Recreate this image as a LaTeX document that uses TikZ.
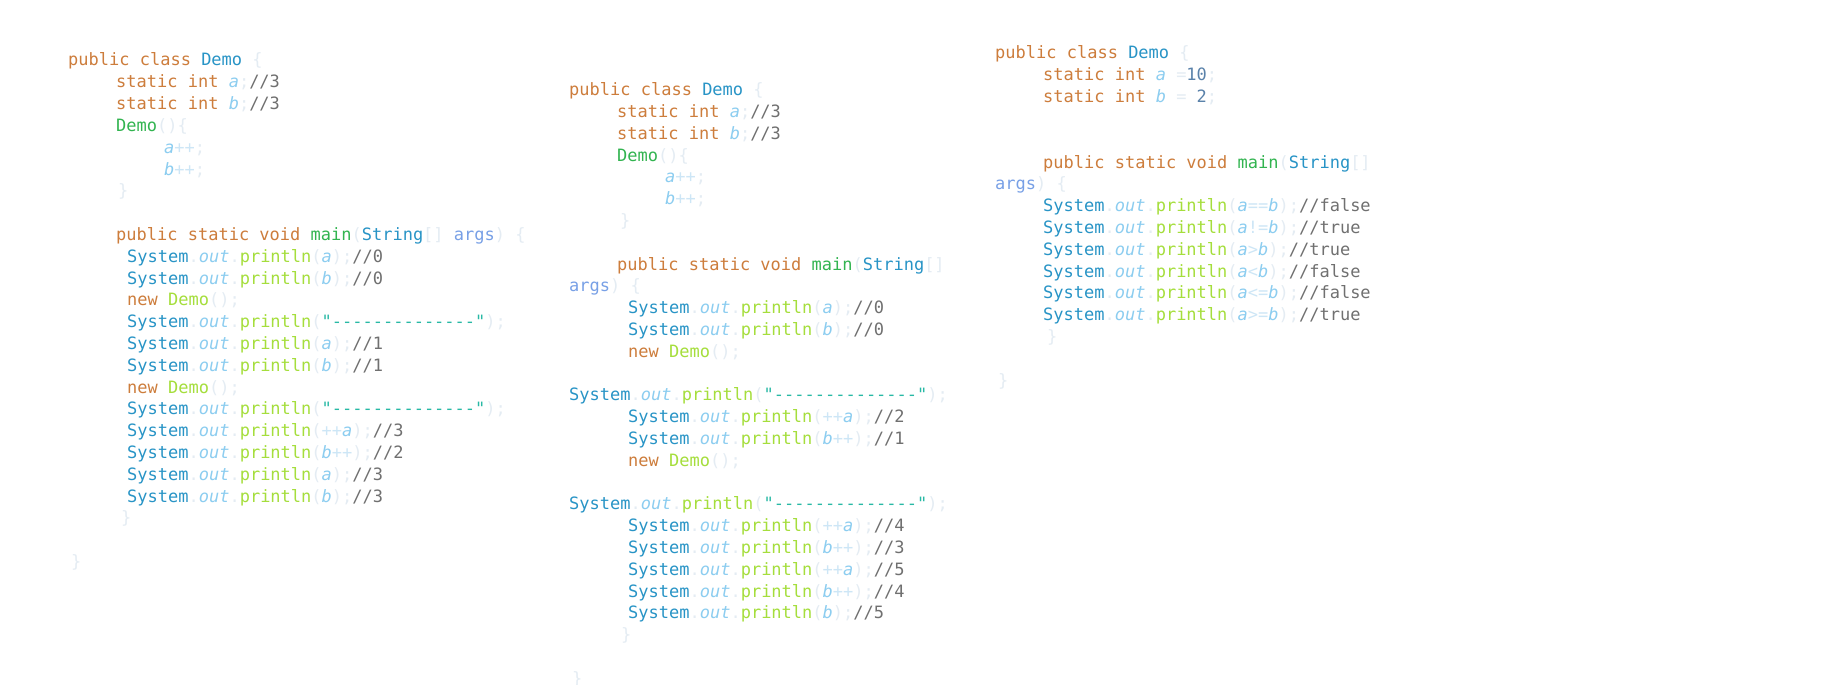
\documentclass[tikz,border=0pt]{standalone}
\usepackage{fontspec}
\setmonofont{DejaVu Sans Mono}
\definecolor{kwc}{RGB}{205,125,60}
\definecolor{clsc}{RGB}{40,148,198}
\definecolor{ctorc}{RGB}{50,180,80}
\definecolor{func}{RGB}{165,222,60}
\definecolor{varc}{RGB}{140,205,240}
\definecolor{opc}{RGB}{205,230,246}
\definecolor{punc}{RGB}{228,236,243}
\definecolor{comc}{RGB}{112,112,112}
\definecolor{strc}{RGB}{40,185,165}
\definecolor{numc}{RGB}{90,130,170}
\definecolor{argc}{RGB}{120,160,230}
\newcommand\ckw[1]{\textcolor{kwc}{#1}}
\newcommand\ccls[1]{\textcolor{clsc}{#1}}
\newcommand\cctor[1]{\textcolor{ctorc}{#1}}
\newcommand\cfun[1]{\textcolor{func}{#1}}
\newcommand\cvar[1]{\textcolor{varc}{\itshape #1}}
\newcommand\cop[1]{\textcolor{opc}{#1}}
\newcommand\cpun[1]{\textcolor{punc}{#1}}
\newcommand\ccom[1]{\textcolor{comc}{#1}}
\newcommand\cstr[1]{\textcolor{strc}{#1}}
\newcommand\cnum[1]{\textcolor{numc}{#1}}
\newcommand\carg[1]{\textcolor{argc}{#1}}
\newcommand\prn{\ccls{System}\cpun{.}\cvar{out}\cpun{.}\cfun{println}\cpun{(}}
\newcommand\dashline{\cstr{"--------------"}}

\begin{document}
\begin{tikzpicture}[x=1pt,y=-1pt,
	code/.style={anchor=base west, inner sep=0pt, font=\ttfamily\fontsize{17pt}{20pt}\selectfont}]
	\useasboundingbox[fill=white] (0,0) rectangle (1845,685);
	% left block
	\node[code] (ca1) at (68,66) {\ckw{public class} \ccls{Demo} \cpun{\{}};
	\node[code] (ca2) at (116,87.8) {\ckw{static int} \cvar{a}\cpun{;}\ccom{//3}};
	\node[code] (ca3) at (116,109.6) {\ckw{static int} \cvar{b}\cpun{;}\ccom{//3}};
	\node[code] (ca4) at (116,131.4) {\cctor{Demo}\cpun{()\{}};
	\node[code] (ca5) at (164,153.2) {\cvar{a}\cop{++}\cpun{;}};
	\node[code] (ca6) at (164,175) {\cvar{b}\cop{++}\cpun{;}};
	\node[code] (ca7) at (118,196.8) {\cpun{\}}};
	\node[code] (ca9) at (116,240.4) {\ckw{public static void} \cctor{main}\cpun{(}\ccls{String}\cpun{[]} \carg{args}\cpun{) \{}};
	\node[code] (ca10) at (127,262.2) {\prn\cvar{a}\cpun{);}\ccom{//0}};
	\node[code] (ca11) at (127,284) {\prn\cvar{b}\cpun{);}\ccom{//0}};
	\node[code] (ca12) at (127,305.8) {\ckw{new} \cfun{Demo}\cpun{();}};
	\node[code] (ca13) at (127,327.6) {\prn\dashline\cpun{);}};
	\node[code] (ca14) at (127,349.4) {\prn\cvar{a}\cpun{);}\ccom{//1}};
	\node[code] (ca15) at (127,371.2) {\prn\cvar{b}\cpun{);}\ccom{//1}};
	\node[code] (ca16) at (127,393) {\ckw{new} \cfun{Demo}\cpun{();}};
	\node[code] (ca17) at (127,414.8) {\prn\dashline\cpun{);}};
	\node[code] (ca18) at (127,436.6) {\prn\cop{++}\cvar{a}\cpun{);}\ccom{//3}};
	\node[code] (ca19) at (127,458.4) {\prn\cvar{b}\cop{++}\cpun{);}\ccom{//2}};
	\node[code] (ca20) at (127,480.2) {\prn\cvar{a}\cpun{);}\ccom{//3}};
	\node[code] (ca21) at (127,502) {\prn\cvar{b}\cpun{);}\ccom{//3}};
	\node[code] (ca22) at (121,523.8) {\cpun{\}}};
	\node[code] (ca24) at (71,567.4) {\cpun{\}}};
	% middle block
	\node[code] (cb1) at (569,95.7) {\ckw{public class} \ccls{Demo} \cpun{\{}};
	\node[code] (cb2) at (617,117.5) {\ckw{static int} \cvar{a}\cpun{;}\ccom{//3}};
	\node[code] (cb3) at (617,139.3) {\ckw{static int} \cvar{b}\cpun{;}\ccom{//3}};
	\node[code] (cb4) at (617,161.1) {\cctor{Demo}\cpun{()\{}};
	\node[code] (cb5) at (665,182.9) {\cvar{a}\cop{++}\cpun{;}};
	\node[code] (cb6) at (665,204.7) {\cvar{b}\cop{++}\cpun{;}};
	\node[code] (cb7) at (620,226.5) {\cpun{\}}};
	\node[code] (cb9) at (617,270.1) {\ckw{public static void} \cctor{main}\cpun{(}\ccls{String}\cpun{[]}};
	\node[code] (cb10) at (569,291.9) {\carg{args}\cpun{) \{}};
	\node[code] (cb11) at (628,313.7) {\prn\cvar{a}\cpun{);}\ccom{//0}};
	\node[code] (cb12) at (628,335.5) {\prn\cvar{b}\cpun{);}\ccom{//0}};
	\node[code] (cb13) at (628,357.3) {\ckw{new} \cfun{Demo}\cpun{();}};
	\node[code] (cb15) at (569,400.9) {\prn\dashline\cpun{);}};
	\node[code] (cb16) at (628,422.7) {\prn\cop{++}\cvar{a}\cpun{);}\ccom{//2}};
	\node[code] (cb17) at (628,444.5) {\prn\cvar{b}\cop{++}\cpun{);}\ccom{//1}};
	\node[code] (cb18) at (628,466.3) {\ckw{new} \cfun{Demo}\cpun{();}};
	\node[code] (cb20) at (569,509.9) {\prn\dashline\cpun{);}};
	\node[code] (cb21) at (628,531.7) {\prn\cop{++}\cvar{a}\cpun{);}\ccom{//4}};
	\node[code] (cb22) at (628,553.5) {\prn\cvar{b}\cop{++}\cpun{);}\ccom{//3}};
	\node[code] (cb23) at (628,575.3) {\prn\cop{++}\cvar{a}\cpun{);}\ccom{//5}};
	\node[code] (cb24) at (628,597.1) {\prn\cvar{b}\cop{++}\cpun{);}\ccom{//4}};
	\node[code] (cb25) at (628,618.9) {\prn\cvar{b}\cpun{);}\ccom{//5}};
	\node[code] (cb26) at (621,640.7) {\cpun{\}}};
	\node[code] (cb28) at (572,684.3) {\cpun{\}}};
	% right block
	\node[code] (cc1) at (995,59) {\ckw{public class} \ccls{Demo} \cpun{\{}};
	\node[code] (cc2) at (1043,80.8) {\ckw{static int} \cvar{a} \cpun{=}\cnum{10}\cpun{;}};
	\node[code] (cc3) at (1043,102.6) {\ckw{static int} \cvar{b} \cpun{=} \cnum{2}\cpun{;}};
	\node[code] (cc6) at (1043,168) {\ckw{public static void} \cctor{main}\cpun{(}\ccls{String}\cpun{[]}};
	\node[code] (cc7) at (995,189.8) {\carg{args}\cpun{) \{}};
	\node[code] (cc8) at (1043,211.6) {\prn\cvar{a}\cop{==}\cvar{b}\cpun{);}\ccom{//false}};
	\node[code] (cc9) at (1043,233.4) {\prn\cvar{a}\cop{!=}\cvar{b}\cpun{);}\ccom{//true}};
	\node[code] (cc10) at (1043,255.2) {\prn\cvar{a}\cop{>}\cvar{b}\cpun{);}\ccom{//true}};
	\node[code] (cc11) at (1043,277) {\prn\cvar{a}\cop{<}\cvar{b}\cpun{);}\ccom{//false}};
	\node[code] (cc12) at (1043,298.8) {\prn\cvar{a}\cop{<=}\cvar{b}\cpun{);}\ccom{//false}};
	\node[code] (cc13) at (1043,320.6) {\prn\cvar{a}\cop{>=}\cvar{b}\cpun{);}\ccom{//true}};
	\node[code] (cc14) at (1047,342.4) {\cpun{\}}};
	\node[code] (cc16) at (998,386) {\cpun{\}}};
\end{tikzpicture}
\end{document}
